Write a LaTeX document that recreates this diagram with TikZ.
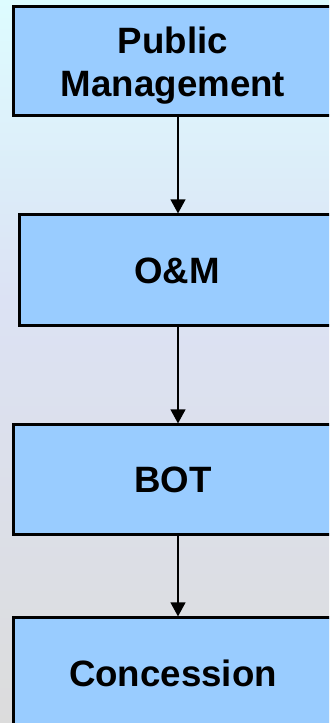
\documentclass[tikz,border=0pt]{standalone}
\usepackage{fontspec}
\setmainfont{Liberation Sans}
\usepackage{tikz}
\usetikzlibrary{positioning,arrows.meta}
\definecolor{boxfill}{HTML}{99CCFF}
\definecolor{bgtop}{HTML}{DDFCFF}
\definecolor{bgmid}{HTML}{DCE2F4}
\definecolor{bgbot}{HTML}{DCDCDC}

\begin{document}
\begin{tikzpicture}[
        every node/.style={
            rectangle,
            draw=black,
            line width=2.25pt,
            fill=boxfill,
            text=black,
            align=center,
            font=\fontsize{27.5}{32.25}\selectfont\bfseries
        },
        wide/.style={minimum width=240pt, minimum height=82.5pt},
        arrow/.style={
            -{Triangle[length=10.5pt,width=11pt]},
            line width=1.5pt,
            color=black
        }
    ]
        % background and page size
        \useasboundingbox (0,0) rectangle (246.75pt,-542.25pt);
        \clip (0,0) rectangle (246.75pt,-542.25pt);
        \shade[top color=bgtop, bottom color=bgmid] (0,0) rectangle (246.75pt,-225pt);
        \shade[top color=bgmid, bottom color=bgbot] (0,-225pt) rectangle (246.75pt,-542.25pt);

        \node (pm) [wide, minimum height=81.75pt, text depth=0pt] at (129.75pt,-46.1pt) {Public\\Management};
        \node (om) [below=72pt of pm, xshift=3pt, minimum width=237pt, minimum height=83.25pt] {O\&M};
        \node (bot) [below=72pt of pm.south |- om.south, anchor=north, wide] {BOT};
        \node (con) [below=60pt of bot, wide] {Concession};

        \draw[arrow] ([xshift=3.75pt]pm.south) -- ([xshift=3.75pt]pm.south |- om.north);
        \draw[arrow] ([xshift=3.75pt]bot.north |- om.south) -- ([xshift=3.75pt]bot.north);
        \draw[arrow] ([xshift=3.75pt]bot.south) -- ([xshift=3.75pt]con.north);
    \end{tikzpicture}
\end{document}
